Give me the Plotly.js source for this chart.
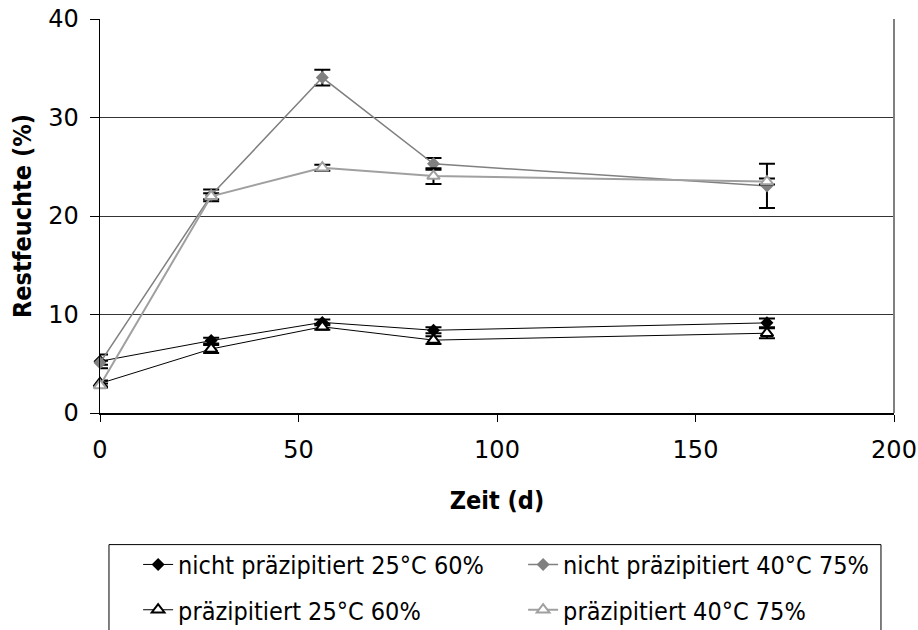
<!DOCTYPE html>
<html>
<head>
<meta charset="utf-8">
<script src="https://cdn.plot.ly/plotly-3.0.1.min.js"></script>
<style>html,body{margin:0;padding:0;background:#fff;}#chart{width:918px;height:630px;}</style>
</head>
<body>
<div id="chart"></div>
<script>
// Data
var days = [0, 28, 56, 84, 168];
var namesRow1 = ["nicht präzipitiert 25°C 60%", "nicht präzipitiert 40°C 75%"];
var namesRow2 = ["präzipitiert 25°C 60%", "präzipitiert 40°C 75%"];
var np25 = [5.25, 7.35, 9.2, 8.4, 9.15];
var np25Err = [0.7, 0.3, 0.3, 0.3, 0.45];
var np40 = [5.1, 22.1, 34.05, 25.3, 23.05];
var np40Err = [0.2, 0.6, 0.8, 0.6, 2.25];
var p25 = [3.0, 6.5, 8.75, 7.4, 8.1];
var p25Err = [0.3, 0.4, 0.3, 0.4, 0.5];
var p40 = [2.8, 22.0, 24.9, 24.05, 23.5];
var p40Err = [0.2, 0.3, 0.3, 0.8, 0.3];
var xTicks = [0, 50, 100, 150, 200];
var yTicks = [0, 10, 20, 30, 40];

var FONT_C = "DejaVu Sans Condensed, DejaVu Sans, sans-serif";
var FONT = "DejaVu Sans, sans-serif";

function errBar(arr) {
  return {type: 'data', array: arr, visible: true, color: '#000000', thickness: 2, width: 8};
}

var traces = [
  {x: days, y: np25, name: namesRow1[0], legend: 'legend', type: 'scatter', mode: 'lines+markers',
   cliponaxis: false,
   line: {color: '#000000', width: 1},
   marker: {symbol: 'diamond', size: 10, color: '#000000'},
   error_y: errBar(np25Err)},
  {x: days, y: p25, name: namesRow2[0], legend: 'legend2', type: 'scatter', mode: 'lines+markers',
   cliponaxis: false,
   line: {color: '#000000', width: 1},
   marker: {symbol: 'triangle-up', size: 11, color: '#ffffff', line: {color: '#000000', width: 2}},
   error_y: errBar(p25Err)},
  {x: days, y: np40, name: namesRow1[1], legend: 'legend', type: 'scatter', mode: 'lines+markers',
   cliponaxis: false,
   line: {color: '#808080', width: 1.5},
   marker: {symbol: 'diamond', size: 10, color: '#808080'},
   error_y: errBar(np40Err)},
  {x: days, y: p40, name: namesRow2[1], legend: 'legend2', type: 'scatter', mode: 'lines+markers',
   cliponaxis: false,
   line: {color: '#a0a0a0', width: 2},
   marker: {symbol: 'triangle-up', size: 11, color: '#ffffff', line: {color: '#a0a0a0', width: 2}},
   error_y: errBar(p40Err)}
];

var legendCommon = {
  orientation: 'h', bgcolor: 'rgba(0,0,0,0)', borderwidth: 0,
  font: {family: FONT_C, size: 25, color: '#000000'},
  entrywidth: 340, entrywidthmode: 'pixels',
  xanchor: 'left', yanchor: 'middle', traceorder: 'normal'
};

var layout = {
  width: 918, height: 630,
  paper_bgcolor: '#ffffff', plot_bgcolor: '#ffffff',
  margin: {l: 100, r: 24, t: 19, b: 217, autoexpand: false},
  font: {family: FONT, size: 24, color: '#000000'},
  showlegend: true,
  xaxis: {
    range: [0, 200], tickvals: xTicks, ticktext: xTicks.map(String),
    showgrid: false, zeroline: false,
    showline: true, linecolor: '#000000', linewidth: 1.5,
    ticks: 'outside', ticklen: 7, tickcolor: '#000000', tickwidth: 1,
    ticklabelstandoff: 8,
    tickfont: {family: FONT, size: 24, color: '#000000'},
    title: {text: 'Zeit (d)', font: {family: FONT_C, size: 25, color: '#000000', weight: 'bold'}, standoff: 28},
    automargin: false
  },
  yaxis: {
    range: [0, 40], tickvals: yTicks, ticktext: yTicks.map(String),
    showgrid: true, gridcolor: '#333333', gridwidth: 1, zeroline: false,
    showline: true, linecolor: '#000000', linewidth: 1.5,
    ticks: 'outside', ticklen: 9, tickcolor: '#000000', tickwidth: 1,
    ticklabelstandoff: 6,
    tickfont: {family: FONT, size: 24, color: '#000000'},
    title: {text: 'Restfeuchte (%)', font: {family: FONT_C, size: 25, color: '#000000', weight: 'bold'}, standoff: 9},
    automargin: false
  },
  legend: Object.assign({}, legendCommon, {x: 0.048, y: -0.385}),
  legend2: Object.assign({}, legendCommon, {x: 0.048, y: -0.5}),
  shapes: [
    {type: 'line', xref: 'paper', yref: 'paper', x0: 1, x1: 1, y0: 0, y1: 1,
     line: {color: '#808080', width: 2}},
    {type: 'rect', xref: 'paper', yref: 'paper', x0: 0.0113, x1: 0.9836, y0: -0.334, y1: -0.62,
     line: {color: '#000000', width: 1}, fillcolor: 'rgba(0,0,0,0)'}
  ]
};

Plotly.newPlot('chart', traces, layout, {displayModeBar: false, staticPlot: true});
</script>
</body>
</html>
